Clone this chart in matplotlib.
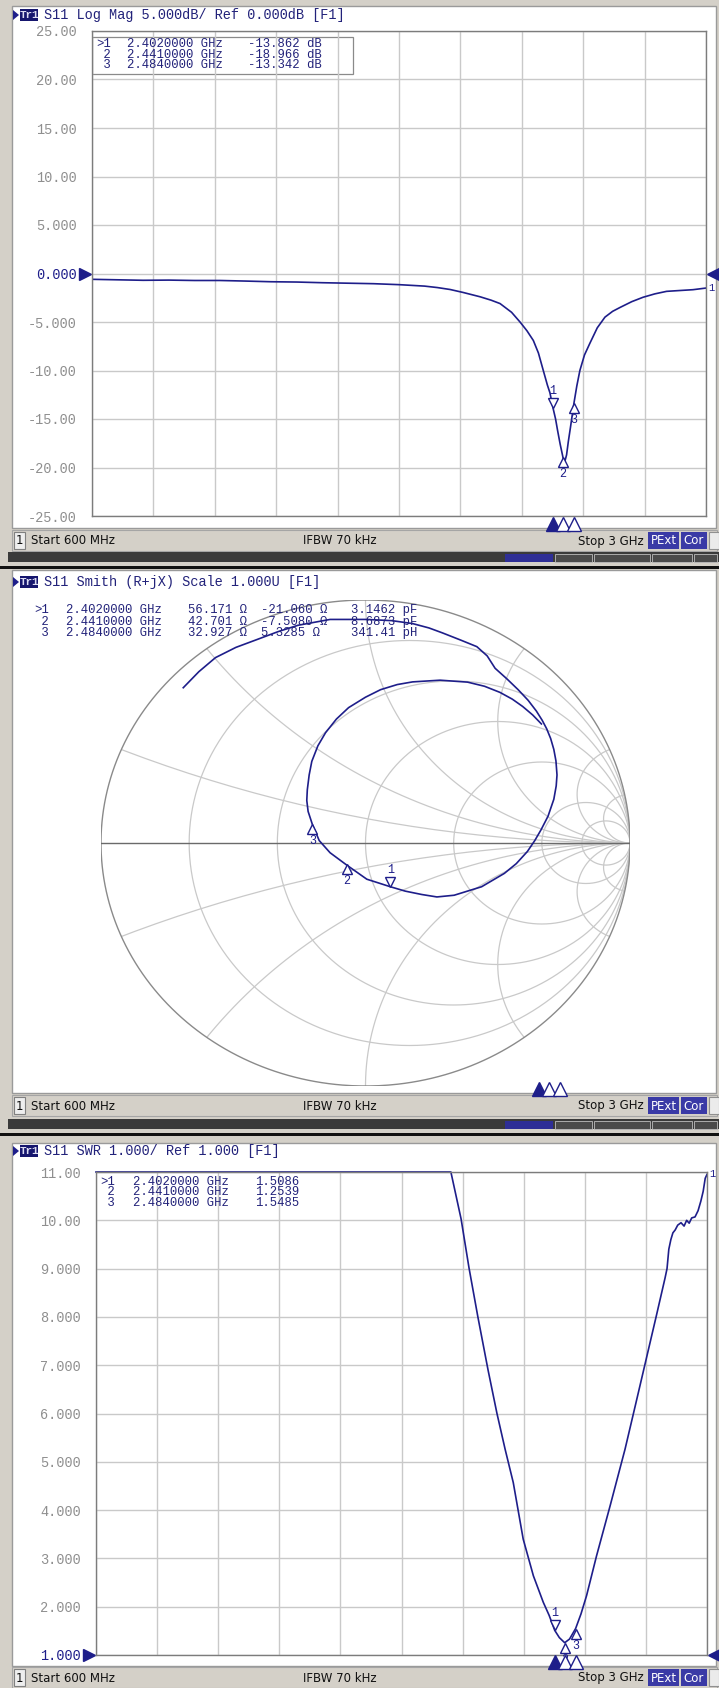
import numpy as np
import matplotlib
matplotlib.use("Agg")
import matplotlib.pyplot as plt
from matplotlib.patches import Rectangle, Polygon, Circle
from matplotlib.transforms import offset_copy

# Size of the captured analyzer screen, in pixels
W, H = 719, 1688

# Sweep settings and markers
start_mhz, stop_mhz = 600, 3000
marker_mhz = [2402.0, 2441.0, 2484.0]

# Trace 1: S11 log magnitude
logmag_mhz = [600, 700, 800, 900, 1000, 1100, 1200, 1300, 1400, 1500, 1600, 1700,
              1800, 1900, 1950, 2000, 2050, 2117, 2160, 2195, 2240, 2273, 2300, 2325,
              2345, 2364, 2380, 2390, 2402, 2412, 2420, 2430, 2441, 2448, 2455, 2462,
              2470, 2484, 2495, 2507, 2525, 2546, 2575, 2605, 2635, 2664, 2710, 2754,
              2800, 2846, 2900, 2949, 3000]
logmag_db = [-0.60, -0.65, -0.70, -0.68, -0.72, -0.72, -0.78, -0.85, -0.88, -0.95, -1.00, -1.05,
             -1.15, -1.30, -1.45, -1.65, -1.95, -2.40, -2.75, -3.10, -4.00, -5.00, -5.90, -6.90,
             -8.20, -10.0, -11.5, -12.3, -13.862, -15.0, -16.2, -17.6, -18.966, -19.40, -18.70, -17.30,
             -15.90, -13.342, -11.6, -10.0, -8.40, -7.20, -5.60, -4.50, -3.90, -3.50, -2.90, -2.45,
             -2.10, -1.84, -1.75, -1.67, -1.50]
logmag_marker_db = [-13.862, -18.966, -13.342]
logmag_ticks = [25, 20, 15, 10, 5, 0, -5, -10, -15, -20, -25]
logmag_labels = ["25.00", "20.00", "15.00", "10.00", "5.000", "0.000",
                 "-5.000", "-10.00", "-15.00", "-20.00", "-25.00"]

# Trace 2: S11 on the Smith chart (reflection coefficient, real / imaginary)
smith_re = [-0.689, -0.630, -0.567, -0.490, -0.411, -0.330, -0.255, -0.134, 0.005, 0.100,
            0.178, 0.240, 0.290, 0.360, 0.421, 0.460, 0.490, 0.535, 0.577, 0.615,
            0.646, 0.668, 0.685, 0.700, 0.712, 0.720, 0.724, 0.721, 0.712, 0.690,
            0.664, 0.640, 0.612, 0.570, 0.525, 0.439, 0.335, 0.270, 0.213, 0.150,
            0.094, 0.005, -0.072, -0.134, -0.175, -0.201, -0.217, -0.222, -0.220, -0.213,
            -0.203, -0.180, -0.151, -0.110, -0.064, 0.000, 0.057, 0.120, 0.178, 0.282,
            0.386, 0.450, 0.508, 0.555, 0.594, 0.632, 0.665]
smith_im = [0.639, 0.705, 0.763, 0.805, 0.837, 0.870, 0.896, 0.920, 0.920, 0.915,
            0.903, 0.885, 0.865, 0.835, 0.808, 0.770, 0.719, 0.675, 0.631, 0.587,
            0.543, 0.505, 0.470, 0.430, 0.385, 0.338, 0.280, 0.235, 0.180, 0.110,
            0.055, 0.010, -0.035, -0.085, -0.125, -0.180, -0.215, -0.222, -0.212, -0.198,
            -0.180, -0.149, -0.090, -0.040, 0.010, 0.077, 0.130, 0.175, 0.219, 0.280,
            0.336, 0.400, 0.454, 0.510, 0.557, 0.600, 0.631, 0.652, 0.663, 0.670,
            0.662, 0.645, 0.620, 0.592, 0.562, 0.527, 0.490]
marker_ohm_r = [56.171, 42.701, 32.927]
marker_ohm_x = [-21.060, -7.5080, 5.3285]
marker_lc_text = ["3.1462 pF", "8.6873 pF", "341.41 pH"]
smith_r_circles = [0.2, 0.5, 1.0, 2.0, 5.0, 10.0]
smith_x_arcs = [0.2, 0.5, 1.0, 2.0, 5.0, 10.0]

# Trace 3: SWR
swr_mhz = [600, 1000, 1500, 1994, 2034, 2065, 2100, 2140, 2175, 2207, 2239, 2278,
           2318, 2357, 2380, 2402, 2420, 2441, 2460, 2484, 2505, 2527, 2566, 2619,
           2678, 2720, 2760, 2800, 2835, 2843, 2850, 2858, 2866, 2875, 2885, 2898,
           2910, 2920, 2930, 2940, 2953, 2965, 2976, 2985, 2993, 3000]
swr_val = [11.0, 11.0, 11.0, 11.0, 10.03, 9.02, 8.0, 6.9, 6.0, 5.26, 4.57, 3.40,
           2.64, 2.09, 1.82, 1.5086, 1.36, 1.2539, 1.33, 1.5485, 1.85, 2.23, 3.05, 4.08,
           5.26, 6.2, 7.1, 8.0, 8.8, 9.0, 9.4, 9.6, 9.74, 9.8, 9.9, 9.95,
           9.88, 10.0, 9.94, 10.05, 10.07, 10.2, 10.4, 10.6, 10.87, 10.95]
swr_marker_val = [1.5086, 1.2539, 1.5485]
swr_ticks = [1, 2, 3, 4, 5, 6, 7, 8, 9, 10, 11]
swr_labels = ["1.000", "2.000", "3.000", "4.000", "5.000", "6.000",
              "7.000", "8.000", "9.000", "10.00", "11.00"]

# Colours
NAVY = "#1e1e8a"
TXT = "#22227a"
GRID = "#c9c9c9"
FRAME = "#d4d0c8"
LABEL = "#8f8f8f"

plt.rcParams["font.family"] = ["Liberation Mono", "DejaVu Sans Mono"]

fig = plt.figure(figsize=(W / 100, H / 100), dpi=100, facecolor=FRAME)

# Background layer in pixel coordinates
bg = fig.add_axes([0, 0, 1, 1])
bg.set_xlim(0, W)
bg.set_ylim(H, 0)
bg.axis("off")


def px_axes(x0, y0, x1, y1):
    return fig.add_axes([x0 / W, 1 - y1 / H, (x1 - x0) / W, (y1 - y0) / H])


def rect(x0, y0, x1, y1, fc, ec="none", lw=0.0):
    bg.add_patch(Rectangle((x0, y0), x1 - x0, y1 - y0, facecolor=fc,
                           edgecolor=ec, linewidth=lw))


def status_bar(y):
    rect(12, y - 11, 717, y + 10, FRAME, "#a5a5a5", 0.8)
    rect(14, y - 9, 25, y + 8, "#eeeeee", "#808080", 0.8)
    sans = dict(family="DejaVu Sans", fontsize=8.5, va="center", color="#111111")
    bg.text(19.5, y, "1", ha="center", **sans)
    bg.text(31, y, "Start %d MHz" % start_mhz, ha="left", **sans)
    bg.text(303, y, "IFBW 70 kHz", ha="left", **sans)
    bg.text(644, y, "Stop %g GHz" % (stop_mhz / 1000), ha="right", **sans)
    rect(648, y - 9, 679, y + 8, "#3a3aa6")
    bg.text(663.5, y, "PExt", ha="center", **dict(sans, color="white"))
    rect(681, y - 9, 707, y + 8, "#3a3aa6")
    bg.text(694, y, "Cor", ha="center", **dict(sans, color="white"))
    rect(709, y - 9, 719, y + 8, "#ebebeb", "#909090", 0.8)


def softkey_band(y):
    rect(8, y, 719, y + 10, "#3a3a3a")
    rect(505, y + 2, 553, y + 10, "#2e2e96")
    for a, b in [(555, 592), (594, 650), (652, 692), (694, 717)]:
        rect(a, y + 2, b, y + 10, "#4a4a4a", "#bdbdbd", 0.6)
    rect(0, y + 14, 719, y + 17, "#111111")


def title(y, text):
    bg.add_patch(Polygon([[13, y - 5], [13, y + 5], [19, y]], facecolor=NAVY))
    rect(20, y - 6, 38, y + 6, "#16166e")
    bg.text(29, y, "Tr1", color="#dcdcf2", fontsize=7.8, fontweight="bold",
            ha="center", va="center")
    bg.text(44, y, text, color=TXT, fontsize=9.8, ha="left", va="center")


def marker_rows(ys, cols):
    # figure-level text so it is drawn above the plot areas
    for i, y in enumerate(ys):
        for x, vals in cols:
            fig.text(x / W, 1 - y / H, vals[i], color=TXT, fontsize=8.8,
                     ha="left", va="center", zorder=10)


def rect_plot(x0, y0, x1, y1, ylo, yhi, ticks, labels, ref_label):
    ax = px_axes(x0, y0, x1, y1)
    ax.set_xlim(start_mhz, stop_mhz)
    ax.set_ylim(ylo, yhi)
    ax.set_xticks(np.linspace(start_mhz, stop_mhz, 11))
    ax.set_yticks(ticks)
    ax.set_yticklabels(labels, fontsize=9.8)
    ax.grid(True, color=GRID, linewidth=1.0)
    ax.tick_params(length=0, labelbottom=False, pad=11)
    for s in ax.spines.values():
        s.set_color("#7c7c7c")
        s.set_linewidth(1.0)
    for lab in ax.get_yticklabels():
        lab.set_color(NAVY if lab.get_text() == ref_label else LABEL)
    return ax


def marker_glyphs(ax, xs, ys):
    # Marker 1 sits above the trace, markers 2 and 3 below it
    for i, (x, y) in enumerate(zip(xs, ys)):
        up = i == 0
        tr = offset_copy(ax.transData, fig=fig, x=0, y=5 if up else -5, units="dots")
        ax.plot(x, y, marker="v" if up else "^", ms=6.5, mfc="white", mec=NAVY,
                mew=1.0, transform=tr, clip_on=False, zorder=5)
        ax.annotate(str(i + 1), xy=(x, y), xytext=(0, 11 if up else -11),
                    textcoords="offset pixels", ha="center",
                    va="bottom" if up else "top", color=NAVY, fontsize=8.5,
                    annotation_clip=False, zorder=5)


def bottom_triangles(ax, y, dy):
    tr = offset_copy(ax.transData, fig=fig, x=0, y=dy, units="dots")
    for i, f in enumerate(marker_mhz):
        ax.plot(f, y, marker="^", ms=9.5, mfc=NAVY if i == 0 else "white",
                mec=NAVY, mew=1.0, transform=tr, clip_on=False, zorder=6)


def ref_arrows(ax, y, dx_left, dx_right):
    tl = offset_copy(ax.transData, fig=fig, x=dx_left, y=0, units="dots")
    trr = offset_copy(ax.transData, fig=fig, x=dx_right, y=0, units="dots")
    ax.plot(start_mhz, y, marker=">", ms=8.5, color=NAVY, transform=tl, clip_on=False)
    ax.plot(stop_mhz, y, marker="<", ms=8.5, color=NAVY, transform=trr, clip_on=False)


# ---------------- panel 1: log magnitude ----------------
rect(12, 6, 716, 528, "white", "#9a9a9a", 1.0)
title(15, "S11 Log Mag 5.000dB/ Ref 0.000dB [F1]")
ax1 = rect_plot(92, 31, 706, 516, -25, 25, logmag_ticks, logmag_labels, "0.000")
ax1.plot(logmag_mhz, logmag_db, color=NAVY, linewidth=1.2)
ax1.add_patch(Rectangle((0, 0.912), 0.425, 0.076, transform=ax1.transAxes,
                        facecolor="none", edgecolor="#8a8a8a", linewidth=0.9))
marker_glyphs(ax1, marker_mhz, logmag_marker_db)
bottom_triangles(ax1, -25, -8)
ref_arrows(ax1, 0, -7, 7)
ax1.annotate("1", xy=(stop_mhz, logmag_db[-1]), xytext=(2, 0), textcoords="offset pixels",
             ha="left", va="center", color=NAVY, fontsize=7.5, annotation_clip=False)
marker_rows([44, 55, 65], [
    (96, [">1", " 2", " 3"]),
    (127, ["%.7f GHz" % (f / 1000) for f in marker_mhz]),
    (248, ["%.3f dB" % v for v in logmag_marker_db]),
])
status_bar(541)
softkey_band(552)

# ---------------- panel 2: Smith chart ----------------
rect(12, 570, 716, 1093, "white", "#9a9a9a", 1.0)
title(582, "S11 Smith (R+jX) Scale 1.000U [F1]")
ax2 = px_axes(101, 600, 630, 1086)
ax2.set_xlim(-1, 1)
ax2.set_ylim(-1, 1)
ax2.axis("off")
ax2.patch.set_alpha(0)
clip = Circle((0, 0), 1.0, transform=ax2.transData, facecolor="none", edgecolor="none")
ax2.add_patch(clip)
t = np.linspace(0, 2 * np.pi, 721)
for r in smith_r_circles:
    c, rad = r / (1 + r), 1 / (1 + r)
    ax2.plot(c + rad * np.cos(t), rad * np.sin(t), color=GRID, linewidth=0.9)
for xv in smith_x_arcs:
    for sgn in (1, -1):
        ln, = ax2.plot(1 + np.cos(t) / xv, sgn / xv + np.sin(t) / xv, color=GRID,
                       linewidth=0.9)
        ln.set_clip_path(clip)
ax2.plot(np.cos(t), np.sin(t), color="#8a8a8a", linewidth=1.0)
ax2.plot([-1, 1], [0, 0], color="#6a6a6a", linewidth=1.0)
ax2.plot(smith_re, smith_im, color=NAVY, linewidth=1.2, zorder=4)
z = (np.array(marker_ohm_r) + 1j * np.array(marker_ohm_x)) / 50.0
gamma = (z - 1) / (z + 1)
marker_glyphs(ax2, gamma.real, gamma.imag)
marker_rows([610, 622, 633], [
    (34, [">1", " 2", " 3"]),
    (66, ["%.7f GHz" % (f / 1000) for f in marker_mhz]),
    (188, ["%#.5g \u03a9" % v for v in marker_ohm_r]),
    (261, ["%#.5g \u03a9" % v for v in marker_ohm_x]),
    (351, marker_lc_text),
])
axm = px_axes(78, 1079, 692, 1089)
axm.set_xlim(start_mhz, stop_mhz)
axm.set_ylim(0, 1)
axm.axis("off")
bottom_triangles(axm, 0, 0)
status_bar(1106)
softkey_band(1119)

# ---------------- panel 3: SWR ----------------
rect(12, 1143, 716, 1666, "white", "#9a9a9a", 1.0)
title(1151, "S11 SWR 1.000/ Ref 1.000 [F1]")
ax3 = rect_plot(96, 1172, 707, 1655, 1, 11, swr_ticks, swr_labels, "1.000")
ax3.plot(swr_mhz, swr_val, color=NAVY, linewidth=1.2, clip_on=False)
marker_glyphs(ax3, marker_mhz, swr_marker_val)
bottom_triangles(ax3, 1, -7)
ref_arrows(ax3, 1, -7, 7)
ax3.annotate("1", xy=(stop_mhz, swr_val[-1]), xytext=(2, 0), textcoords="offset pixels",
             ha="left", va="center", color=NAVY, fontsize=7.5, annotation_clip=False)
marker_rows([1182, 1192, 1203], [
    (100, [">1", " 2", " 3"]),
    (133, ["%.7f GHz" % (f / 1000) for f in marker_mhz]),
    (255, ["%.4f" % v for v in swr_marker_val]),
])
status_bar(1678)

fig.savefig("out.png", dpi=100, facecolor=FRAME)
